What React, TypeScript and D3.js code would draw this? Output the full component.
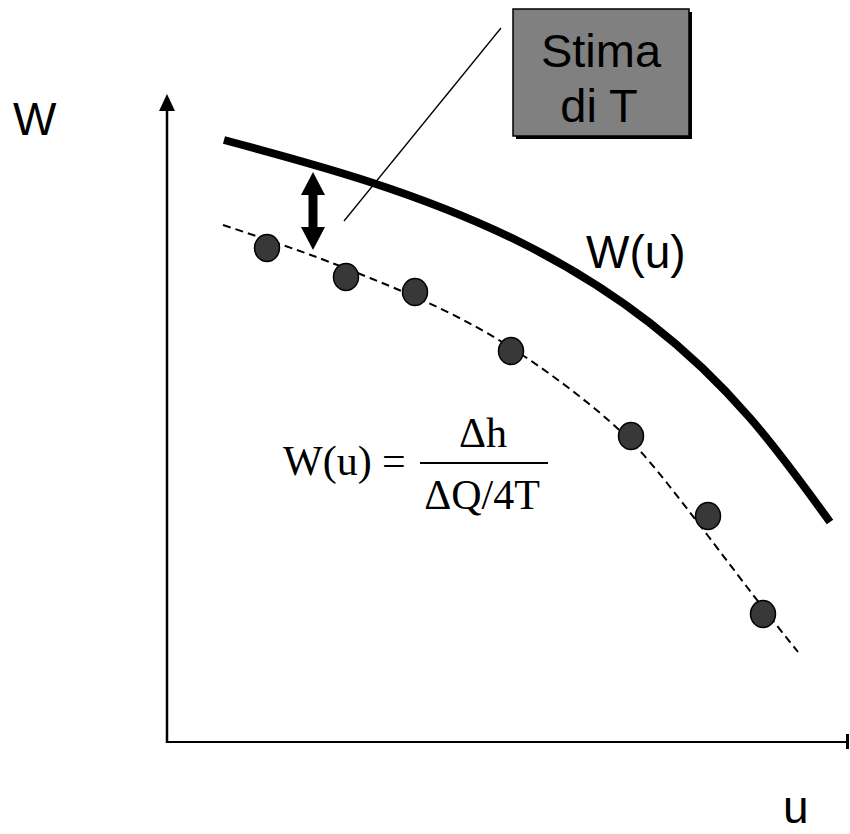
import React from "react";
import * as d3 from "d3";

const pointU = [100, 179, 248, 344, 464, 541, 596];
const pointW = [494, 465, 450, 391, 306, 226, 128];

const fitU = [56, 130, 203, 320, 433, 500, 580, 631];
const fitW = [517, 492, 464, 409, 329, 259, 155, 90];

const curveU = [57, 203, 353, 483, 583, 663];
const curveW = [602, 560, 500, 419, 324, 220];

export default function App() {
  const W = 850, H = 834;
  const x = d3.scaleLinear().domain([0, 681]).range([167, 848]);
  const y = d3.scaleLinear().domain([0, 648]).range([742, 94]);
  const line = d3.line<[number, number]>().x(d => x(d[0])).y(d => y(d[1])).curve(d3.curveNatural);
  const fit = line(fitU.map((u, i) => [u, fitW[i]]) as [number, number][]) || "";
  const curve = line(curveU.map((u, i) => [u, curveW[i]]) as [number, number][]) || "";
  const arial = "Liberation Sans, Arial, sans-serif";
  const times = "Liberation Serif, Times New Roman, serif";
  const x0 = x(0), y0 = y(0), yTop = y(648), xEnd = x(681);
  return (
    <svg width={W} height={H} style={{ position: "absolute", left: 0, top: 0 }}>
      <rect width={W} height={H} fill="#fff" />
      {/* axes */}
      <line x1={x0} y1={y0 + 1} x2={x0} y2={yTop + 10} stroke="#000" strokeWidth={2.5} />
      <polygon points={`${x0},${yTop} ${x0 - 8},${yTop + 17} ${x0 + 8},${yTop + 17}`} fill="#000" />
      <line x1={x0 - 1} y1={y0} x2={xEnd} y2={y0} stroke="#000" strokeWidth={2.2} />
      <line x1={xEnd - 0.5} y1={y0 - 8} x2={xEnd - 0.5} y2={y0 + 7} stroke="#000" strokeWidth={3} />
      {/* dashed fit */}
      <path d={fit} fill="none" stroke="#000" strokeWidth={2} strokeDasharray="8,5" />
      {/* solid curve */}
      <path d={curve} fill="none" stroke="#000" strokeWidth={8} />
      {/* points */}
      {pointU.map((u, i) => (
        <ellipse key={i} cx={x(u)} cy={y(pointW[i])} rx={12.5} ry={13.5} fill="#383838" stroke="#000" strokeWidth={1.5} />
      ))}
      {/* double arrow */}
      <line x1={313} y1={192} x2={313} y2={230} stroke="#000" strokeWidth={9} />
      <polygon points="313,172 301,195 325,195" fill="#000" />
      <polygon points="313,250 301,227 325,227" fill="#000" />
      {/* leader line */}
      <line x1={344} y1={221} x2={501} y2={28} stroke="#000" strokeWidth={1.3} />
      {/* box */}
      <rect x={516} y={12} width={176} height={127} fill="#000" />
      <rect x={513} y={9} width={176} height={127} fill="#808080" stroke="#000" strokeWidth={1.5} />
      <text x={601} y={67} textAnchor="middle" fontFamily={arial} fontSize={47}>Stima</text>
      <text x={599} y={122} textAnchor="middle" fontFamily={arial} fontSize={47}>di T</text>
      {/* labels */}
      <text x={13} y={135} fontFamily={arial} fontSize={46}>W</text>
      <text x={783} y={823} fontFamily={arial} fontSize={46}>u</text>
      <text x={586} y={268} fontFamily={arial} fontSize={46}>W(u)</text>
      {/* formula */}
      <text x={283} y={475} fontFamily={times} fontSize={42}>W(u) =</text>
      <line x1={420} y1={463} x2={548} y2={463} stroke="#000" strokeWidth={2} />
      <text x={483} y={447} textAnchor="middle" fontFamily={times} fontSize={42}>Δh</text>
      <text x={482} y={509} textAnchor="middle" fontFamily={times} fontSize={42}>ΔQ/4T</text>
    </svg>
  );
}
